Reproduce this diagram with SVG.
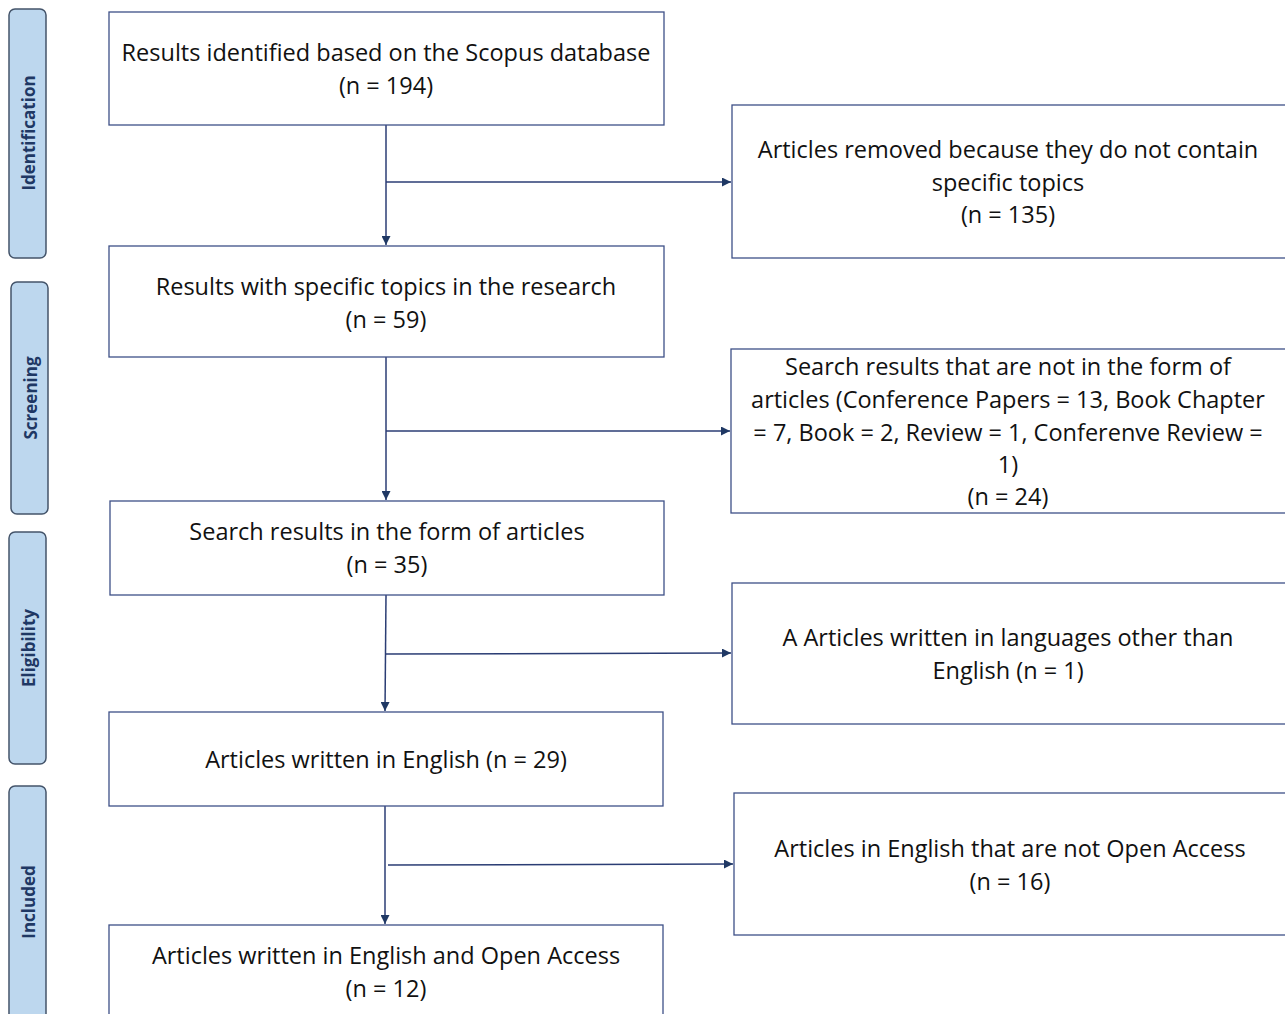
<svg xmlns="http://www.w3.org/2000/svg" width="1285" height="1014" viewBox="0 0 1285 1014">
<defs>
<style>
.bg{fill:#ffffff}
.side{fill:#bdd7ee;stroke:#44546a;stroke-width:1.5}
.sidet{font-family:"Open Sans",sans-serif;font-weight:bold;font-size:17px;fill:#1f3864;text-anchor:middle;dominant-baseline:central}
.box{fill:#ffffff;stroke:#3e5087;stroke-width:1.3}
.t{font-family:"Open Sans",sans-serif;font-size:23.5px;fill:#111111;text-anchor:middle;dominant-baseline:central}
.c{fill:none;stroke:#2b3d74;stroke-width:1.5}
</style>
<marker id="ah" viewBox="0 0 10 10" refX="10" refY="5" markerWidth="9" markerHeight="9" orient="auto" markerUnits="userSpaceOnUse">
<path d="M0,0 L10,5 L0,10 Z" fill="#1f3864"/>
</marker>
</defs>
<rect class="bg" x="0" y="0" width="1285" height="1014"/>
<g id="side-identification"><rect class="side" x="9" y="9" width="37" height="249" rx="6"/><text class="sidet" transform="translate(28,133) rotate(-90)">Identification</text></g>
<g id="side-screening"><rect class="side" x="11" y="282" width="37" height="232" rx="6"/><text class="sidet" transform="translate(30,398) rotate(-90)">Screening</text></g>
<g id="side-eligibility"><rect class="side" x="9" y="532" width="37" height="232" rx="6"/><text class="sidet" transform="translate(28,648) rotate(-90)">Eligibility</text></g>
<g id="side-included"><rect class="side" x="9" y="786" width="37" height="240" rx="6"/><text class="sidet" transform="translate(28,902) rotate(-90)">Included</text></g>

<g id="connectors">
<line class="c" x1="386" y1="125" x2="386" y2="245" marker-end="url(#ah)"/>
<line class="c" x1="386" y1="182" x2="731" y2="182" marker-end="url(#ah)"/>
<line class="c" x1="386" y1="357" x2="386" y2="500" marker-end="url(#ah)"/>
<line class="c" x1="386" y1="431" x2="730" y2="431" marker-end="url(#ah)"/>
<line class="c" x1="386" y1="595" x2="385" y2="711" marker-end="url(#ah)"/>
<line class="c" x1="386" y1="654" x2="731" y2="653" marker-end="url(#ah)"/>
<line class="c" x1="385" y1="806" x2="385" y2="924" marker-end="url(#ah)"/>
<line class="c" x1="388" y1="865" x2="733" y2="864" marker-end="url(#ah)"/>
</g>

<g id="b1"><rect class="box" x="109" y="12" width="555" height="113"/><text class="t" x="386" y="52">Results identified based on the Scopus database</text><text class="t" x="386" y="85">(n = 194)</text></g>
<g id="b2"><rect class="box" x="109" y="246" width="555" height="111"/><text class="t" x="386" y="286">Results with specific topics in the research</text><text class="t" x="386" y="319">(n = 59)</text></g>
<g id="b3"><rect class="box" x="110" y="501" width="554" height="94"/><text class="t" x="387" y="531">Search results in the form of articles</text><text class="t" x="387" y="564">(n = 35)</text></g>
<g id="b4"><rect class="box" x="109" y="712" width="554" height="94"/><text class="t" x="386" y="759">Articles written in English (n = 29)</text></g>
<g id="b5"><rect class="box" x="109" y="925" width="554" height="100"/><text class="t" x="386" y="955">Articles written in English and Open Access</text><text class="t" x="386" y="988">(n = 12)</text></g>

<g id="r1"><rect class="box" x="732" y="105" width="560" height="153"/><text class="t" x="1008" y="149">Articles removed because they do not contain</text><text class="t" x="1008" y="182">specific topics</text><text class="t" x="1008" y="214">(n = 135)</text></g>
<g id="r2"><rect class="box" x="731" y="349" width="560" height="164"/><text class="t" x="1008" y="366">Search results that are not in the form of</text><text class="t" x="1008" y="399">articles (Conference Papers = 13, Book Chapter</text><text class="t" x="1008" y="432">= 7, Book = 2, Review = 1, Conferenve Review =</text><text class="t" x="1008" y="464">1)</text><text class="t" x="1008" y="496">(n = 24)</text></g>
<g id="r3"><rect class="box" x="732" y="583" width="560" height="141"/><text class="t" x="1008" y="637">A Articles written in languages other than</text><text class="t" x="1008" y="670">English (n = 1)</text></g>
<g id="r4"><rect class="box" x="734" y="793" width="560" height="142"/><text class="t" x="1010" y="848">Articles in English that are not Open Access</text><text class="t" x="1010" y="881">(n = 16)</text></g>
</svg>
